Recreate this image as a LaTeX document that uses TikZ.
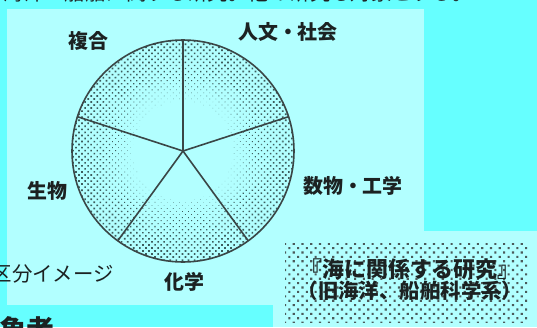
\documentclass[tikz,border=0pt]{standalone}
\usepackage{fontspec}
\newfontfamily\jpfont{Noto Sans CJK JP}
\usetikzlibrary{patterns.meta}
\definecolor{bgcyan}{HTML}{66FFFF}
\definecolor{panel}{HTML}{B2FFFF}
\definecolor{dotgray}{HTML}{3C5C5C}
\definecolor{boxdot}{HTML}{4A5A5A}
\definecolor{linegray}{HTML}{3A4646}
\definecolor{ink}{HTML}{1C2222}
\tikzset{
  lab/.style={font=\jpfont\bfseries\fontsize{20}{20}\selectfont, text=ink, inner sep=0pt},
  plainlab/.style={font=\jpfont\fontsize{20.5}{20.5}\selectfont, text=ink, inner sep=0pt},
  spoke/.style={draw=linegray, line width=1.6bp}
}
\begin{document}
\begin{tikzpicture}[x=1bp,y=1bp]
\useasboundingbox (0,0) rectangle (537,327);
\clip (0,0) rectangle (537,327);
\fill[bgcyan] (0,0) rectangle (537,327);
\fill[panel] (7,22) rectangle (424,317.5);
\fill[panel] (273,0) rectangle (537,96);

% pie, dots grow toward the rim
\coordinate (ctr) at (183,176);
\foreach \ri/\ro/\d in {50/58/0.3,58/65/0.5,65/72/0.68,72/79/0.82,79/86/0.95,86/93/1.05,93/100/1.13,100/111/1.2}
  \fill[even odd rule, pattern={Dots[radius=\d bp,distance=4.3bp,angle=45]}, pattern color=dotgray]
    (ctr) circle (\ri) (ctr) circle (\ro);
\foreach \a in {90,18,-54,-126,162}
  \draw[spoke] (ctr) -- ++(\a:111);
\draw[spoke] (ctr) circle (111);

\node[lab] (fukugo) at (88,286) {複合};
\node[lab] (jinbun) at (288,295) {人文・社会};
\node[lab] (suubutsu) at (353,141) {数物・工学};
\node[lab] (seibutsu) at (47,136) {生物};
\node[lab] (kagaku) at (184,45.5) {化学};

% box
\fill[pattern={Dots[radius=1.5bp,distance=6.2bp,angle=45]}, pattern color=boxdot] (285,5) rectangle (528,84);
\node[lab, font=\jpfont\bfseries\fontsize{22}{19}\selectfont, align=center] (umi) at (410,47.5)
  {『海に関係する研究』\\\fontsize{20.5}{19}\selectfont （旧海洋、船舶科学系）};

% cut-off texts
\node[plainlab, anchor=east] (kubun) at (114,53) {区分イメージ};
\node[plainlab, anchor=base east] (top) at (473,326.5) {海洋・船舶に関する研究。他の研究も対象とする。};
\node[lab, font=\jpfont\bfseries\fontsize{28}{28}\selectfont, anchor=base east] (shosha) at (55,-13) {象者};
\end{tikzpicture}
\end{document}
